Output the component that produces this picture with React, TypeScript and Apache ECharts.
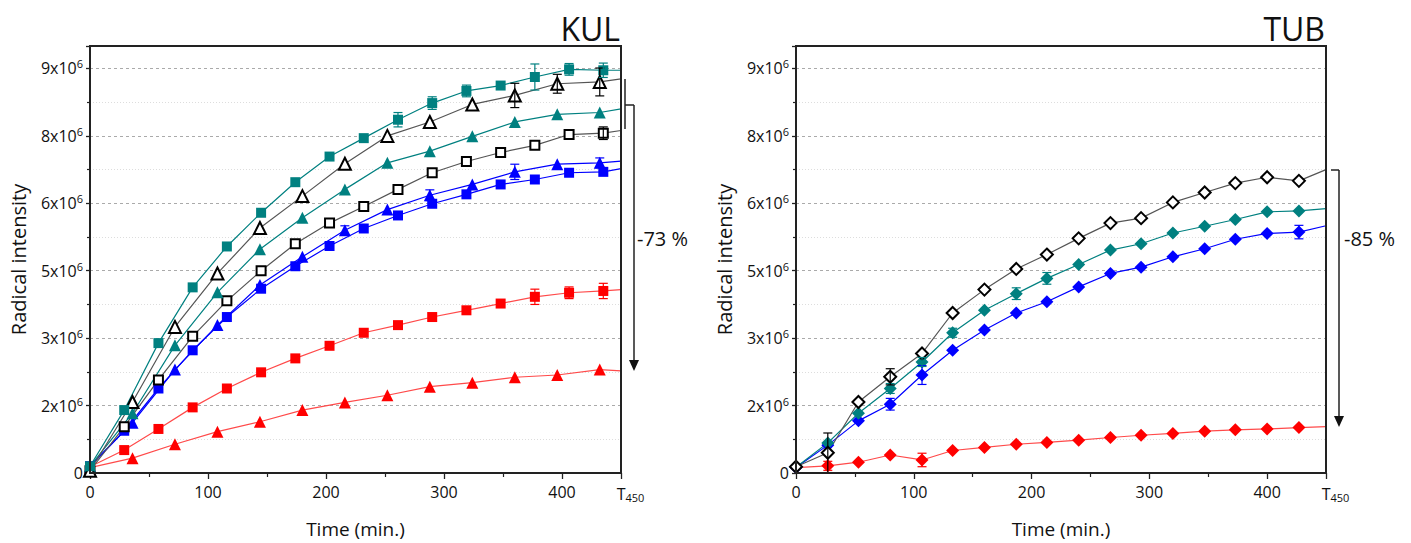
import React, { useEffect, useRef } from "react";
import * as echarts from "echarts";

// ---------- DATA (y in units of 10^6) ----------
const kulSqTimes = [0, 29, 58, 87, 116, 145, 174, 203, 232, 261, 290, 319, 348, 377, 406, 435, 450];
const kulTriTimes = [0, 36, 72, 108, 144, 180, 216, 252, 288, 324, 360, 396, 432, 450];
const tubTimes = [0, 27, 53, 80, 107, 133, 160, 187, 213, 240, 267, 293, 320, 347, 373, 400, 427, 450];

const kulTealSquare = [0.15, 1.4, 2.89, 4.13, 5.04, 5.79, 6.47, 7.04, 7.45, 7.86, 8.23, 8.5, 8.62, 8.81, 8.98, 8.96, 8.96];
const kulTealSquareErr = [0, 0, 0, 0, 0, 0, 0, 0, 0, 0.16, 0.14, 0.13, 0, 0.29, 0.13, 0.16, 0];
const kulOpenTri = [0.05, 1.58, 3.25, 4.44, 5.45, 6.16, 6.88, 7.5, 7.81, 8.2, 8.4, 8.66, 8.7, 8.77];
const kulOpenTriErr = [0, 0, 0, 0, 0, 0, 0, 0, 0, 0, 0.27, 0.21, 0.31, 0];
const kulTealTri = [0.15, 1.33, 2.84, 4.02, 4.98, 5.68, 6.31, 6.9, 7.16, 7.49, 7.81, 7.98, 8.02, 8.1];
const kulTealTriErr = [0, 0, 0, 0, 0, 0, 0, 0, 0, 0, 0, 0, 0, 0];
const kulOpenSq = [0.05, 1.03, 2.07, 3.04, 3.83, 4.5, 5.1, 5.56, 5.93, 6.31, 6.68, 6.93, 7.13, 7.29, 7.53, 7.56, 7.62];
const kulOpenSqErr = [0, 0, 0, 0, 0, 0, 0, 0, 0, 0, 0, 0, 0, 0, 0, 0.14, 0];
const kulBlueTri = [0.15, 1.12, 2.3, 3.29, 4.18, 4.81, 5.4, 5.86, 6.18, 6.42, 6.7, 6.87, 6.9, 6.94];
const kulBlueTriErr = [0, 0, 0, 0, 0, 0, 0.1, 0, 0.12, 0, 0.17, 0, 0.11, 0];
const kulBlueSq = [0.15, 0.94, 1.88, 2.73, 3.47, 4.1, 4.6, 5.05, 5.44, 5.73, 5.99, 6.2, 6.42, 6.53, 6.68, 6.7, 6.77];
const kulBlueSqErr = [0, 0, 0, 0, 0, 0, 0, 0, 0, 0, 0, 0, 0, 0, 0, 0, 0];
const kulRedSq = [0.14, 0.51, 0.98, 1.46, 1.88, 2.24, 2.55, 2.83, 3.12, 3.29, 3.47, 3.62, 3.77, 3.92, 4.01, 4.05, 4.08];
const kulRedSqErr = [0, 0, 0, 0, 0, 0, 0, 0, 0, 0, 0, 0, 0, 0.17, 0.13, 0.17, 0];
const kulRedTri = [0.12, 0.33, 0.64, 0.92, 1.14, 1.4, 1.57, 1.73, 1.92, 2.01, 2.13, 2.18, 2.3, 2.27];
const kulRedTriErr = [0, 0, 0, 0, 0, 0, 0, 0, 0, 0, 0, 0, 0, 0];

const tubOpen = [0.14, 0.45, 1.58, 2.14, 2.66, 3.56, 4.08, 4.54, 4.86, 5.22, 5.56, 5.67, 6.02, 6.24, 6.45, 6.58, 6.5, 6.75];
const tubOpenErr = [0, 0.44, 0, 0.18, 0, 0, 0, 0, 0, 0, 0, 0, 0, 0, 0, 0, 0, 0];
const tubTeal = [0.13, 0.67, 1.33, 1.88, 2.47, 3.12, 3.62, 3.99, 4.33, 4.64, 4.96, 5.1, 5.34, 5.49, 5.64, 5.81, 5.83, 5.88];
const tubTealErr = [0, 0, 0, 0.11, 0.1, 0.1, 0, 0.13, 0.13, 0, 0, 0, 0, 0, 0, 0, 0, 0];
const tubBlue = [0.12, 0.62, 1.16, 1.53, 2.18, 2.73, 3.18, 3.56, 3.81, 4.14, 4.44, 4.58, 4.81, 4.99, 5.2, 5.33, 5.36, 5.5];
const tubBlueErr = [0, 0, 0, 0.13, 0.21, 0, 0, 0, 0, 0, 0, 0, 0, 0, 0, 0, 0.15, 0];
const tubRed = [0.12, 0.16, 0.24, 0.4, 0.29, 0.5, 0.57, 0.64, 0.68, 0.73, 0.79, 0.84, 0.88, 0.93, 0.96, 0.98, 1.01, 1.03];
const tubRedErr = [0, 0.1, 0, 0, 0.15, 0, 0, 0, 0, 0, 0, 0, 0, 0, 0, 0, 0, 0];

const yTickLabels = ["0", "2", "3", "5", "6", "8", "9"];
const xTickLabels = ["0", "100", "200", "300", "400", "T450"];
const panelTitles = ["KUL", "TUB"];
const reductionLabels = ["-73 %", "-85 %"];

// ---------- STYLE ----------
const FONT = "Open Sans";
const TEAL = "#008080";
const BLUE = "#0000ff";
const RED = "#ff0000";
const BLACK = "#000000";
const GRAYLINE = "#555555";

type Spec = {
  grid: number;
  times: number[];
  values: number[];
  errs: number[];
  symbol: string;
  size: number;
  color: string;
  line: string;
  open?: boolean;
};

const specs: Spec[] = [
  { grid: 0, times: kulSqTimes, values: kulRedSq, errs: kulRedSqErr, symbol: "rect", size: 10, color: RED, line: "#ff4a4a" },
  { grid: 0, times: kulTriTimes, values: kulRedTri, errs: kulRedTriErr, symbol: "triangle", size: 12, color: RED, line: "#ff4a4a" },
  { grid: 0, times: kulSqTimes, values: kulBlueSq, errs: kulBlueSqErr, symbol: "rect", size: 10, color: BLUE, line: BLUE },
  { grid: 0, times: kulTriTimes, values: kulBlueTri, errs: kulBlueTriErr, symbol: "triangle", size: 12, color: BLUE, line: BLUE },
  { grid: 0, times: kulSqTimes, values: kulOpenSq, errs: kulOpenSqErr, symbol: "rect", size: 9, color: BLACK, line: GRAYLINE, open: true },
  { grid: 0, times: kulTriTimes, values: kulTealTri, errs: kulTealTriErr, symbol: "triangle", size: 12, color: TEAL, line: TEAL },
  { grid: 0, times: kulTriTimes, values: kulOpenTri, errs: kulOpenTriErr, symbol: "triangle", size: 12, color: BLACK, line: GRAYLINE, open: true },
  { grid: 0, times: kulSqTimes, values: kulTealSquare, errs: kulTealSquareErr, symbol: "rect", size: 10, color: TEAL, line: TEAL },
  { grid: 1, times: tubTimes, values: tubRed, errs: tubRedErr, symbol: "diamond", size: 13, color: RED, line: "#ff4a4a" },
  { grid: 1, times: tubTimes, values: tubBlue, errs: tubBlueErr, symbol: "diamond", size: 13, color: BLUE, line: BLUE },
  { grid: 1, times: tubTimes, values: tubTeal, errs: tubTealErr, symbol: "diamond", size: 13, color: TEAL, line: TEAL },
  { grid: 1, times: tubTimes, values: tubOpen, errs: tubOpenErr, symbol: "diamond", size: 12, color: BLACK, line: GRAYLINE, open: true },
];

const gridBoxes = [
  { left: 90, top: 46, width: 531, height: 427 },
  { left: 796, top: 46, width: 530, height: 427 },
];

function buildOption() {
  const series: any[] = [];
  specs.forEach((s) => {
    const last = s.times.length - 1;
    series.push({
      type: "line",
      xAxisIndex: s.grid,
      yAxisIndex: s.grid,
      symbol: s.symbol,
      symbolSize: s.size,
      showAllSymbol: true,
      clip: true,
      z: 2,
      lineStyle: { color: s.line, width: 1.2 },
      itemStyle: s.open
        ? { color: "#ffffff", borderColor: BLACK, borderWidth: 2 }
        : { color: s.color, borderWidth: 0 },
      data: s.times.map((t, i) =>
        i === last && t === 450 ? { value: [t, s.values[i]], symbol: "none" } : [t, s.values[i]]
      ),
    });
    const errData = s.times
      .map((t, i) => [t, s.values[i], s.errs[i]])
      .filter((d) => d[2] > 0);
    if (errData.length) {
      const col = s.open ? BLACK : s.color;
      series.push({
        type: "custom",
        xAxisIndex: s.grid,
        yAxisIndex: s.grid,
        z: 3,
        encode: { x: 0, y: 1 },
        data: errData,
        renderItem: (params: any, api: any) => {
          const x = api.value(0);
          const y = api.value(1);
          const e = api.value(2);
          const top = api.coord([x, y + e]);
          const bot = api.coord([x, y - e]);
          const w = 4.5;
          const st = { stroke: col, lineWidth: 1.2 };
          return {
            type: "group",
            children: [
              { type: "line", shape: { x1: top[0], y1: top[1], x2: bot[0], y2: bot[1] }, style: st },
              { type: "line", shape: { x1: top[0] - w, y1: top[1], x2: top[0] + w, y2: top[1] }, style: st },
              { type: "line", shape: { x1: bot[0] - w, y1: bot[1], x2: bot[0] + w, y2: bot[1] }, style: st },
            ],
          };
        },
      });
    }
  });

  const axisColor = "#222222";
  const xAxes = [0, 1].map((g) => ({
    type: "value",
    gridIndex: g,
    min: 0,
    max: 450,
    interval: 100,
    name: "Time (min.)",
    nameLocation: "middle",
    nameGap: 46,
    nameTextStyle: { fontSize: 19, color: "#111", fontFamily: FONT },
    axisLine: { show: true, onZero: false, lineStyle: { color: axisColor, width: 1.5 } },
    axisTick: { show: true, length: 6, lineStyle: { color: axisColor, width: 1.3 } },
    minorTick: { show: true, splitNumber: 2, length: 4, lineStyle: { color: axisColor, width: 1.2 } },
    splitLine: { show: false },
    axisLabel: {
      margin: 11,
      color: "#111",
      fontSize: 16,
      fontFamily: FONT,
      formatter: (v: number, idx: number) => {
        const lab = xTickLabels[idx] ?? "";
        if (lab.startsWith("T")) return `{t|T}{s|${lab.slice(1)}}`;
        return lab;
      },
      rich: {
        t: { fontSize: 16, fontFamily: FONT, color: "#111", padding: [0, 0, 0, 19] },
        s: { fontSize: 11, fontFamily: FONT, color: "#111", padding: [8, 0, 0, 0] },
      },
    },
  }));
  const yAxes = [0, 1].map((g) => ({
    type: "value",
    gridIndex: g,
    min: 0,
    max: 9.5,
    interval: 1.5,
    name: "Radical intensity",
    nameLocation: "middle",
    nameGap: 62,
    nameTextStyle: { fontSize: 20, color: "#111", fontFamily: FONT },
    axisLine: { show: true, lineStyle: { color: axisColor, width: 1.5 } },
    axisTick: { show: true, length: 4, lineStyle: { color: axisColor, width: 1.3 } },
    minorTick: { show: true, splitNumber: 2, length: 3, lineStyle: { color: axisColor, width: 1.2 } },
    splitLine: { show: true, showMaxLine: false, lineStyle: { color: "#aaaaaa", type: [3, 3], width: 1 } },
    minorSplitLine: { show: true, lineStyle: { color: "#dddddd", type: [1, 2], width: 1 } },
    axisLabel: {
      margin: 7,
      color: "#111",
      fontSize: 16,
      fontFamily: FONT,
      showMaxLabel: false,
      formatter: (v: number, idx: number) => {
        const lab = yTickLabels[idx];
        if (lab === undefined) return "";
        if (lab === "0") return "{b|0}";
        return `{b|${lab}x10}{p|6}`;
      },
      rich: {
        b: { fontSize: 16, fontFamily: FONT, color: "#111" },
        p: { fontSize: 11, fontFamily: FONT, color: "#111", padding: [0, 0, 9, 0] },
      },
    },
  }));

  const lineStyle = { stroke: "#222", lineWidth: 1.5 };
  const frames = gridBoxes.map((b) => ({
    type: "rect",
    z: 10,
    silent: true,
    shape: { x: b.left, y: b.top, width: b.width, height: b.height },
    style: { fill: "none", stroke: "#222", lineWidth: 2 },
  }));
  const graphic: any[] = [
    ...frames,
    {
      type: "text",
      x: 620,
      y: 28,
      style: { text: panelTitles[0], fontSize: 32, fontFamily: FONT, fill: "#111", align: "right", verticalAlign: "middle" },
    },
    {
      type: "text",
      x: 1325,
      y: 28,
      style: { text: panelTitles[1], fontSize: 32, fontFamily: FONT, fill: "#111", align: "right", verticalAlign: "middle" },
    },
    // KUL bracket + arrow
    { type: "line", shape: { x1: 625, y1: 79, x2: 625, y2: 129 }, style: lineStyle },
    { type: "line", shape: { x1: 625, y1: 105, x2: 634, y2: 105 }, style: lineStyle },
    { type: "line", shape: { x1: 634, y1: 105, x2: 634, y2: 362 }, style: lineStyle },
    { type: "polygon", shape: { points: [[629, 360], [639, 360], [634, 371]] }, style: { fill: "#111" } },
    {
      type: "text",
      x: 637,
      y: 238,
      style: { text: reductionLabels[0], fontSize: 20, fontFamily: FONT, fill: "#111", align: "left", verticalAlign: "middle" },
    },
    // TUB bracket + arrow
    { type: "line", shape: { x1: 1331, y1: 170, x2: 1339, y2: 170 }, style: lineStyle },
    { type: "line", shape: { x1: 1339, y1: 170, x2: 1339, y2: 418 }, style: lineStyle },
    { type: "polygon", shape: { points: [[1334, 416], [1344, 416], [1339, 427]] }, style: { fill: "#111" } },
    {
      type: "text",
      x: 1344,
      y: 238,
      style: { text: reductionLabels[1], fontSize: 20, fontFamily: FONT, fill: "#111", align: "left", verticalAlign: "middle" },
    },
  ];

  return {
    animation: false,
    backgroundColor: "#ffffff",
    textStyle: { fontFamily: FONT },
    grid: gridBoxes.map((b) => ({
      ...b,
      show: false,
      containLabel: false,
    })),
    xAxis: xAxes,
    yAxis: yAxes,
    series,
    graphic,
  };
}

export default function App() {
  const ref = useRef<HTMLDivElement>(null);
  useEffect(() => {
    if (!ref.current) return;
    const chart = echarts.init(ref.current, undefined, { renderer: "svg" });
    chart.setOption(buildOption() as any);
    return () => chart.dispose();
  }, []);
  return (
    <div
      ref={ref}
      style={{ position: "absolute", left: 0, top: 0, width: 1411, height: 543, background: "#fff" }}
    />
  );
}
